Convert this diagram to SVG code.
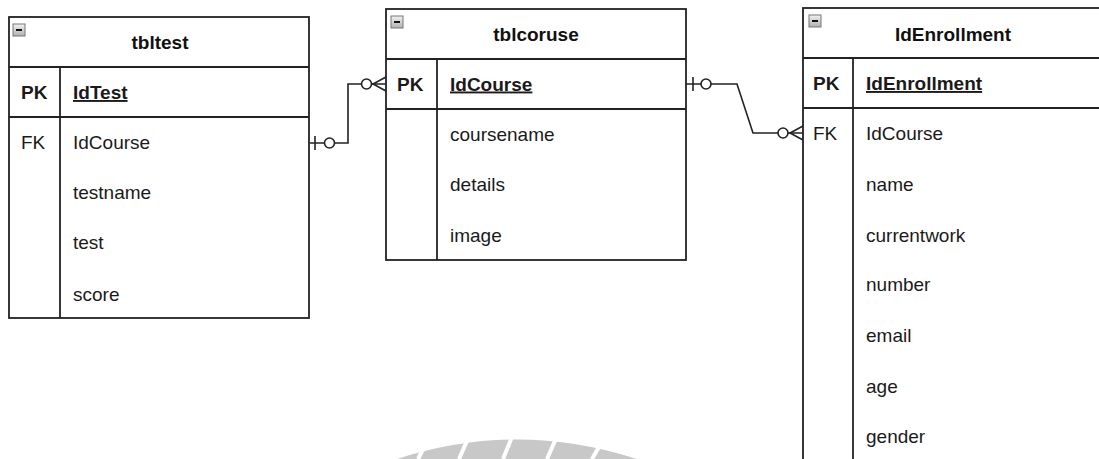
<svg xmlns="http://www.w3.org/2000/svg" width="1099" height="459" viewBox="0 0 1099 459">
<style>
.box{fill:#fff;stroke:#222;stroke-width:1.8}
.ln{stroke:#222;stroke-width:1.8;fill:none}
.t{font-family:"Liberation Sans",Arial,sans-serif;font-size:19px;fill:#1a1a1a}
.b{font-weight:bold}
.u{text-decoration:underline}
.ttl{font-family:"Liberation Sans",Arial,sans-serif;font-size:19px;font-weight:bold;fill:#111;text-anchor:middle}
.con{stroke:#222;stroke-width:1.6;fill:none}
.circ{fill:#fff;stroke:#222;stroke-width:1.6}
</style>
<defs>
<linearGradient id="ig" x1="0" y1="0" x2="0" y2="1">
<stop offset="0" stop-color="#f2f2f2"/>
<stop offset="1" stop-color="#b0b0b0"/>
</linearGradient>
<g id="icon">
<rect x="0" y="0" width="12" height="12" fill="url(#ig)" stroke="#777" stroke-width="1"/>
<line x1="3" y1="6" x2="9" y2="6" stroke="#111" stroke-width="2"/>
</g>
</defs>
<rect width="1099" height="459" fill="#fff"/>

<g id="watermark">
<path d="M397,459 Q517,420 637,459 Z" fill="#c8c8c8"/>
<g stroke="#fff" stroke-width="4">
<line x1="428" y1="440" x2="418" y2="459"/>
<line x1="470" y1="434" x2="459" y2="459"/>
<line x1="514" y1="432" x2="503" y2="459"/>
<line x1="558" y1="434" x2="547" y2="459"/>
<line x1="603" y1="440" x2="592" y2="459"/>
</g>
</g>

<g id="tbltest">
<rect class="box" x="9" y="17" width="300" height="301"/>
<line class="ln" x1="9" y1="67" x2="309" y2="67"/>
<line class="ln" x1="9" y1="117" x2="309" y2="117"/>
<line class="ln" x1="60" y1="67" x2="60" y2="318"/>
<use href="#icon" x="13" y="24"/>
<text class="ttl" x="160" y="49">tbltest</text>
<text class="t b" x="21" y="99">PK</text>
<text class="t b u" x="73" y="99">IdTest</text>
<text class="t" x="21" y="149">FK</text>
<text class="t" x="73" y="149">IdCourse</text>
<text class="t" x="73" y="199">testname</text>
<text class="t" x="73" y="249">test</text>
<text class="t" x="73" y="300.5">score</text>
</g>

<g id="tblcoruse">
<rect class="box" x="386" y="9" width="300" height="251"/>
<line class="ln" x1="386" y1="59" x2="686" y2="59"/>
<line class="ln" x1="386" y1="109" x2="686" y2="109"/>
<line class="ln" x1="437" y1="59" x2="437" y2="260"/>
<use href="#icon" x="391" y="16"/>
<text class="ttl" x="536" y="41">tblcoruse</text>
<text class="t b" x="397" y="90.5">PK</text>
<text class="t b u" x="450" y="90.5">IdCourse</text>
<text class="t" x="450" y="140.5">coursename</text>
<text class="t" x="450" y="191">details</text>
<text class="t" x="450" y="241.5">image</text>
</g>

<g id="IdEnrollment">
<rect class="box" x="803" y="8" width="304" height="470"/>
<line class="ln" x1="803" y1="58" x2="1107" y2="58"/>
<line class="ln" x1="803" y1="108" x2="1107" y2="108"/>
<line class="ln" x1="853" y1="58" x2="853" y2="478"/>
<use href="#icon" x="809" y="15"/>
<text class="ttl" x="953" y="40.5">IdEnrollment</text>
<text class="t b" x="813" y="90">PK</text>
<text class="t b u" x="866" y="90">IdEnrollment</text>
<text class="t" x="813" y="140">FK</text>
<text class="t" x="866" y="140">IdCourse</text>
<text class="t" x="866" y="191">name</text>
<text class="t" x="866" y="242">currentwork</text>
<text class="t" x="866" y="291">number</text>
<text class="t" x="866" y="342">email</text>
<text class="t" x="866" y="393">age</text>
<text class="t" x="866" y="443">gender</text>
</g>

<g id="connectors">
<path class="con" d="M310,143 L348,143 L348,84 L386,84"/>
<line class="con" x1="315" y1="136" x2="315" y2="150"/>
<circle class="circ" cx="329.5" cy="143" r="5"/>
<circle class="circ" cx="366.5" cy="84" r="5"/>
<path class="con" d="M386,77 L373,84 L386,91"/>

<path class="con" d="M686,84 L737,84 L753,133 L803,133"/>
<line class="con" x1="693" y1="77" x2="693" y2="91"/>
<circle class="circ" cx="706" cy="84" r="5"/>
<circle class="circ" cx="783" cy="133" r="5"/>
<path class="con" d="M803,126 L790,133 L803,140"/>
</g>
</svg>
